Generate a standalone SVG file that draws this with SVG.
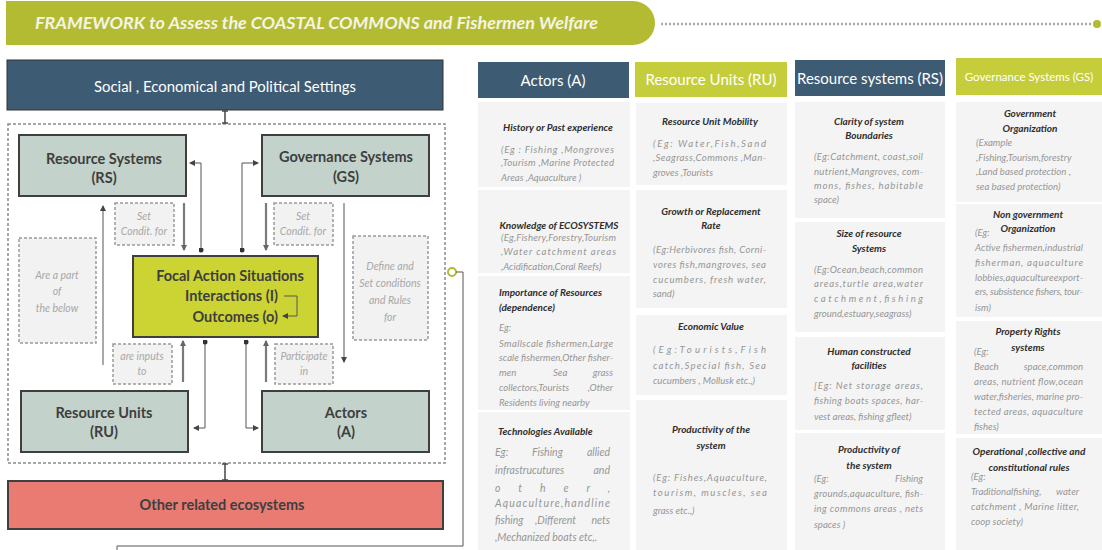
<svg xmlns="http://www.w3.org/2000/svg" width="1102" height="550" viewBox="0 0 1102 550">
<style>
.bx{fill:#c3d3cb;stroke:#3f3f3f;stroke-width:2}
.bt{font-family:Lato,"Liberation Sans",sans-serif;font-weight:bold;font-size:14.5px;fill:#3e3e3e;text-anchor:middle}
.db{fill:#f2f2f2;stroke:#9a9a9a;stroke-width:1.5;stroke-dasharray:3 2}
.dt{font-family:Lato,"Liberation Sans",sans-serif;font-style:italic;font-size:10.5px;fill:#a8a8a8;text-anchor:middle}
.hd{font-family:Lato,"Liberation Sans",sans-serif;font-size:15px;fill:#ffffff;text-anchor:middle}
.hds{font-family:Lato,"Liberation Sans",sans-serif;font-size:11.5px;fill:#ffffff;text-anchor:middle}
.card{fill:#f4f4f4}
.ct{font-family:Lato,"Liberation Sans",sans-serif;font-weight:bold;font-style:italic;font-size:10px;fill:#2e2e2e;text-anchor:middle}
.ctl{font-family:Lato,"Liberation Sans",sans-serif;font-weight:bold;font-style:italic;font-size:10px;fill:#2e2e2e}
.cb{font-family:Lato,"Liberation Sans",sans-serif;font-style:italic;font-size:9.6px;fill:#969696}
.cbl{font-family:Lato,"Liberation Sans",sans-serif;font-style:italic;font-size:10.5px;fill:#969696}
.e{text-anchor:end}
.thin{fill:none;stroke:#555;stroke-width:1}
.thick{fill:none;stroke:#7a7a7a;stroke-width:2.2}
</style>
<defs>
<marker id="ah" viewBox="0 0 6 6" refX="5" refY="3" markerWidth="6" markerHeight="6" markerUnits="userSpaceOnUse" orient="auto"><path d="M0,0 L6,3 L0,6 z" fill="#444"/></marker>
<marker id="ahk" viewBox="0 0 6 6" refX="5" refY="3" markerWidth="6" markerHeight="6" markerUnits="userSpaceOnUse" orient="auto"><path d="M0,0 L6,3 L0,6 z" fill="#666"/></marker>
<marker id="dot" viewBox="0 0 6 6" refX="3" refY="3" markerWidth="5" markerHeight="5" markerUnits="userSpaceOnUse"><circle cx="3" cy="3" r="3" fill="#333"/></marker>
<marker id="bar" viewBox="0 0 6 6" refX="3" refY="3" markerWidth="6" markerHeight="6" markerUnits="userSpaceOnUse" orient="auto"><path d="M3,0 V6" stroke="#444" stroke-width="1.5"/></marker>
</defs>

<g id="title">
<path d="M6,1 H633 A22,22 0 0 1 633,45 H6 Z" fill="#b3bb33"/>
<text x="35" y="29" font-family="Lato,'Liberation Sans',sans-serif" font-weight="bold" font-style="italic" font-size="17" fill="#f4f4e4" textLength="563" lengthAdjust="spacingAndGlyphs">FRAMEWORK to Assess the COASTAL COMMONS and Fishermen Welfare</text>
<line x1="661" y1="24" x2="1094" y2="24" stroke="#aaaaaa" stroke-width="2.5" stroke-dasharray="2 2"/>
<circle cx="1097" cy="24" r="4" fill="#b3bb33"/>
</g>

<g id="social">
<rect x="7" y="60" width="436" height="50" fill="#3e5b74" stroke="#333" stroke-width="1"/>
<text x="225" y="92" class="hd" textLength="262" lengthAdjust="spacingAndGlyphs">Social , Economical and Political Settings</text>
</g>

<g id="container">
<rect x="8" y="124" width="437" height="339" fill="none" stroke="#8a8a8a" stroke-width="1.5" stroke-dasharray="3 2"/>
</g>

<g id="rs"><rect class="bx" x="19" y="135" width="167" height="61"/>
<text class="bt" x="104" y="164">Resource Systems</text><text class="bt" x="104" y="183">(RS)</text></g>
<g id="gs"><rect class="bx" x="262" y="135" width="167" height="61"/>
<text class="bt" x="346" y="162">Governance Systems</text><text class="bt" x="346" y="182">(GS)</text></g>
<g id="ru"><rect class="bx" x="21" y="391" width="167" height="61"/>
<text class="bt" x="104" y="418">Resource Units</text><text class="bt" x="104" y="437">(RU)</text></g>
<g id="actors"><rect class="bx" x="262" y="391" width="167" height="61"/>
<text class="bt" x="346" y="418">Actors</text><text class="bt" x="346" y="437">(A)</text></g>
<g id="focal"><rect x="133" y="256" width="185" height="81" fill="#ccd433" stroke="#3f3f3f" stroke-width="2"/>
<text class="bt" x="230" y="281">Focal Action Situations</text>
<text class="bt e" x="278" y="301">Interactions (I)</text>
<text class="bt e" x="278" y="322">Outcomes (o)</text></g>
<g id="other"><rect x="8" y="481" width="435" height="48" fill="#e97b73" stroke="#3f3f3f" stroke-width="2"/>
<text class="bt" x="222" y="510">Other related ecosystems</text></g>

<g id="lbl-setcond-rs"><rect class="db" x="115" y="203" width="59" height="42"/>
<text class="dt" x="144" y="220">Set</text><text class="dt" x="144" y="235">Condit. for</text></g>
<g id="lbl-setcond-gs"><rect class="db" x="274" y="203" width="59" height="42"/>
<text class="dt" x="303" y="220">Set</text><text class="dt" x="303" y="235">Condit. for</text></g>
<g id="lbl-part"><rect class="db" x="19" y="238" width="77" height="105"/>
<text class="dt" x="57" y="279">Are a part</text><text class="dt" x="57" y="295">of</text><text class="dt" x="57" y="312">the below</text></g>
<g id="lbl-define"><rect class="db" x="353" y="236" width="75" height="104"/>
<text class="dt" x="390" y="270">Define and</text><text class="dt" x="390" y="287">Set conditions</text><text class="dt" x="390" y="304">and Rules</text><text class="dt" x="390" y="321">for</text></g>
<g id="lbl-inputs"><rect class="db" x="113" y="344" width="59" height="40"/>
<text class="dt" x="142" y="360">are inputs</text><text class="dt" x="142" y="375">to</text></g>
<g id="lbl-participate"><rect class="db" x="275" y="344" width="58" height="40"/>
<text class="dt" x="304" y="360">Participate</text><text class="dt" x="304" y="375">in</text></g>

<g id="connectors">
<polyline class="thin" points="201,250 201,163 190,163" marker-start="url(#dot)" marker-end="url(#ah)"/>
<polyline class="thin" points="242,250 242,163 258,163" marker-start="url(#dot)" marker-end="url(#ah)"/>
<line class="thick" x1="184" y1="203" x2="184" y2="250" marker-end="url(#ahk)"/>
<line class="thick" x1="266" y1="203" x2="266" y2="250" marker-end="url(#ahk)"/>
<line class="thin" x1="103" y1="365" x2="103" y2="206" stroke-width="1.3" marker-end="url(#ah)"/>
<line class="thin" x1="344" y1="203" x2="344" y2="362" stroke-width="1.3" marker-end="url(#ah)"/>
<line class="thick" x1="183" y1="382" x2="183" y2="341" marker-end="url(#ahk)"/>
<line class="thick" x1="266" y1="382" x2="266" y2="341" marker-end="url(#ahk)"/>
<polyline class="thin" points="205,342 205,428 194,428" marker-start="url(#dot)" marker-end="url(#ah)"/>
<polyline class="thin" points="246,342 246,428 258,428" marker-start="url(#dot)" marker-end="url(#ah)"/>
<polyline class="thin" points="284,296 297,296 297,316 283,316" stroke-width="1.5" marker-end="url(#ah)"/>
<line x1="225" y1="111" x2="225" y2="123" stroke="#444" stroke-width="1.5" marker-start="url(#bar)" marker-end="url(#bar)"/>
<line x1="225" y1="464" x2="225" y2="480" stroke="#444" stroke-width="1.5" marker-start="url(#bar)" marker-end="url(#bar)"/>
<circle cx="452" cy="272" r="4" fill="#fff" stroke="#b3bb33" stroke-width="2"/>
<polyline class="thin" points="456,272 463,272 463,546 117,546 117,550" stroke="#666"/>
</g>

<g id="hdr-actors"><rect x="478" y="62" width="151" height="36" fill="#3e5b74"/><text class="hd" x="553" y="86">Actors (A)</text></g>
<g id="hdr-ru"><rect x="635" y="62" width="152" height="35" fill="#c6cd3b"/><text class="hd" x="711" y="85">Resource Units (RU)</text></g>
<g id="hdr-rs"><rect x="795" y="60" width="150" height="36" fill="#3e5b74"/><text class="hd" x="870" y="84" textLength="146" lengthAdjust="spacingAndGlyphs">Resource systems (RS)</text></g>
<g id="hdr-gs"><rect x="956" y="58" width="146" height="37" fill="#c6cd3b"/><text class="hds" x="1029" y="81">Governance Systems (GS)</text></g>

<g id="actors-cards">
<rect class="card" x="478" y="102" width="152" height="85"/>
<text class="ct" x="558" y="131">History or Past experience</text>
<text class="cb" x="501" y="153" textLength="113" lengthAdjust="spacing">(Eg : Fishing ,Mongroves</text>
<text class="cb" x="501" y="166" textLength="113" lengthAdjust="spacing">,Tourism ,Marine Protected</text>
<text class="cb" x="501" y="181">Areas ,Aquaculture )</text>
<rect class="card" x="478" y="190" width="152" height="83"/>
<text class="ct" x="559" y="229">Knowledge of ECOSYSTEMS</text>
<text class="cb" x="501" y="241" textLength="115" lengthAdjust="spacing">(Eg,Fishery,Forestry,Tourism</text>
<text class="cb" x="501" y="255" textLength="115" lengthAdjust="spacing">,Water catchment areas</text>
<text class="cb" x="501" y="270">,Acidification,Coral Reefs)</text>
<rect class="card" x="478" y="276" width="152" height="134"/>
<text class="ctl" x="499" y="296">Importance of Resources</text>
<text class="ctl" x="499" y="311">(dependence)</text>
<text class="cb" x="499" y="331">Eg:</text>
<text class="cb" x="499" y="347" textLength="114" lengthAdjust="spacing">Smallscale fishermen,Large</text>
<text class="cb" x="499" y="361" textLength="114" lengthAdjust="spacing">scale fishermen,Other fisher-</text>
<text class="cb" x="499" y="376">men</text><text class="cb" x="553" y="376">Sea</text><text class="cb e" x="613" y="376">grass</text>
<text class="cb" x="499" y="391">collectors,Tourists</text><text class="cb e" x="613" y="391">,Other</text>
<text class="cb" x="499" y="406">Residents living nearby</text>
<rect class="card" x="478" y="412" width="152" height="138"/>
<text class="ctl" x="498" y="435">Technologies Available</text>
<text class="cbl" x="495" y="456">Eg:</text><text class="cbl" x="532" y="456">Fishing</text><text class="cbl e" x="610" y="456">allied</text>
<text class="cbl" x="495" y="474">infrastrucutures</text><text class="cbl e" x="610" y="474">and</text>
<text class="cbl" x="495" y="492" textLength="115" lengthAdjust="spacing">other,</text>
<text class="cbl" x="495" y="507" textLength="115" lengthAdjust="spacing">Aquaculture,handline</text>
<text class="cbl" x="495" y="524">fishing</text><text class="cbl" x="535" y="524">,Different</text><text class="cbl e" x="610" y="524">nets</text>
<text class="cbl" x="495" y="541">,Mechanized boats etc,.</text>
</g>

<g id="ru-cards">
<rect class="card" x="636" y="103" width="151" height="82"/>
<text class="ct" x="710" y="125">Resource Unit Mobility</text>
<text class="cb" x="653" y="147" textLength="113" lengthAdjust="spacing">(Eg: Water,Fish,Sand</text>
<text class="cb" x="653" y="161" textLength="113" lengthAdjust="spacing">,Seagrass,Commons ,Man-</text>
<text class="cb" x="653" y="176">groves ,Tourists</text>
<rect class="card" x="636" y="190" width="151" height="118"/>
<text class="ct" x="711" y="215">Growth or Replacement</text>
<text class="ct" x="711" y="229">Rate</text>
<text class="cb" x="653" y="253" textLength="113" lengthAdjust="spacing">(Eg:Herbivores fish, Corni-</text>
<text class="cb" x="653" y="268" textLength="113" lengthAdjust="spacing">vores fish,mangroves, sea</text>
<text class="cb" x="653" y="283" textLength="113" lengthAdjust="spacing">cucumbers, fresh water,</text>
<text class="cb" x="653" y="297">sand)</text>
<rect class="card" x="636" y="315" width="151" height="80"/>
<text class="ct" x="711" y="330">Economic Value</text>
<text class="cb" x="653" y="353" textLength="113" lengthAdjust="spacing">(Eg:Tourists,Fish</text>
<text class="cb" x="653" y="369" textLength="113" lengthAdjust="spacing">catch,Special fish, Sea</text>
<text class="cb" x="653" y="384">cucumbers , Mollusk etc.,)</text>
<rect class="card" x="636" y="400" width="151" height="150"/>
<text class="ct" x="711" y="433">Productivity of the</text>
<text class="ct" x="711" y="449">system</text>
<text class="cb" x="653" y="481" textLength="114" lengthAdjust="spacing">(Eg: Fishes,Aquaculture,</text>
<text class="cb" x="653" y="496" textLength="114" lengthAdjust="spacing">tourism, muscles, sea</text>
<text class="cb" x="653" y="514">grass etc.,)</text>
</g>

<g id="rs-cards">
<rect class="card" x="795" y="102" width="150" height="116"/>
<text class="ct" x="869" y="125">Clarity of system</text>
<text class="ct" x="869" y="139">Boundaries</text>
<text class="cb" x="814" y="160" textLength="109" lengthAdjust="spacing">(Eg:Catchment, coast,soil</text>
<text class="cb" x="814" y="175" textLength="109" lengthAdjust="spacing">nutrient,Mangroves, com-</text>
<text class="cb" x="814" y="189" textLength="109" lengthAdjust="spacing">mons, fishes, habitable</text>
<text class="cb" x="814" y="203">space)</text>
<rect class="card" x="795" y="222" width="150" height="110"/>
<text class="ct" x="869" y="237">Size of resource</text>
<text class="ct" x="869" y="252">Systems</text>
<text class="cb" x="814" y="273" textLength="109" lengthAdjust="spacing">(Eg:Ocean,beach,common</text>
<text class="cb" x="814" y="287" textLength="109" lengthAdjust="spacing">areas,turtle area,water</text>
<text class="cb" x="814" y="302" textLength="109" lengthAdjust="spacing">catchment,fishing</text>
<text class="cb" x="814" y="317">ground,estuary,seagrass)</text>
<rect class="card" x="795" y="337" width="150" height="93"/>
<text class="ct" x="869" y="355">Human constructed</text>
<text class="ct" x="869" y="369">facilities</text>
<text class="cb" x="814" y="389" textLength="109" lengthAdjust="spacing">[Eg: Net storage areas,</text>
<text class="cb" x="814" y="404" textLength="109" lengthAdjust="spacing">fishing boats spaces, har-</text>
<text class="cb" x="814" y="420">vest areas, fishing gfleet)</text>
<rect class="card" x="795" y="433" width="150" height="117"/>
<text class="ct" x="869" y="453">Productivity of</text>
<text class="ct" x="869" y="469">the system</text>
<text class="cb" x="814" y="482">(Eg:</text><text class="cb e" x="923" y="482">Fishing</text>
<text class="cb" x="814" y="497" textLength="109" lengthAdjust="spacing">grounds,aquaculture, fish-</text>
<text class="cb" x="814" y="512" textLength="109" lengthAdjust="spacing">ing commons areas , nets</text>
<text class="cb" x="814" y="528">spaces )</text>
</g>

<g id="gs-cards">
<rect class="card" x="956" y="102" width="146" height="100"/>
<text class="ct" x="1030" y="117">Government</text>
<text class="ct" x="1030" y="132">Organization</text>
<text class="cb" x="976" y="146">(Example</text>
<text class="cb" x="976" y="161">,Fishing,Tourism,forestry</text>
<text class="cb" x="976" y="175">,Land based protection ,</text>
<text class="cb" x="976" y="190">sea based protection)</text>
<rect class="card" x="956" y="204" width="146" height="113"/>
<text class="ct" x="1028" y="218">Non government</text>
<text class="cb" x="975" y="236">(Eg:</text>
<text class="ct" x="1028" y="232">Organization</text>
<text class="cb" x="975" y="251" textLength="108" lengthAdjust="spacing">Active fishermen,industrial</text>
<text class="cb" x="975" y="266" textLength="108" lengthAdjust="spacing">fisherman, aquaculture</text>
<text class="cb" x="975" y="281" textLength="108" lengthAdjust="spacing">lobbies,aquacultureexport-</text>
<text class="cb" x="975" y="295" textLength="108" lengthAdjust="spacing">ers, subsistence fishers, tour-</text>
<text class="cb" x="975" y="311">ism)</text>
<rect class="card" x="956" y="321" width="146" height="113"/>
<text class="ct" x="1028" y="335">Property Rights</text>
<text class="cb" x="974" y="355">(Eg:</text>
<text class="ct" x="1028" y="351">systems</text>
<text class="cb" x="974" y="370">Beach</text><text class="cb e" x="1083" y="370">space,common</text>
<text class="cb" x="974" y="385" textLength="109" lengthAdjust="spacing">areas, nutrient flow,ocean</text>
<text class="cb" x="974" y="400" textLength="109" lengthAdjust="spacing">water,fisheries, marine pro-</text>
<text class="cb" x="974" y="415" textLength="109" lengthAdjust="spacing">tected areas, aquaculture</text>
<text class="cb" x="974" y="430">fishes)</text>
<rect class="card" x="956" y="438" width="146" height="112"/>
<text class="ct" x="1029" y="455">Operational ,collective and</text>
<text class="ct" x="1029" y="471">constitutional rules</text>
<text class="cb" x="971" y="480">(Eg:</text>
<text class="cb" x="971" y="495">Traditionalfishing,</text><text class="cb e" x="1079" y="495">water</text>
<text class="cb" x="971" y="510" textLength="108" lengthAdjust="spacing">catchment , Marine litter,</text>
<text class="cb" x="971" y="525">coop society)</text>
</g>
</svg>
